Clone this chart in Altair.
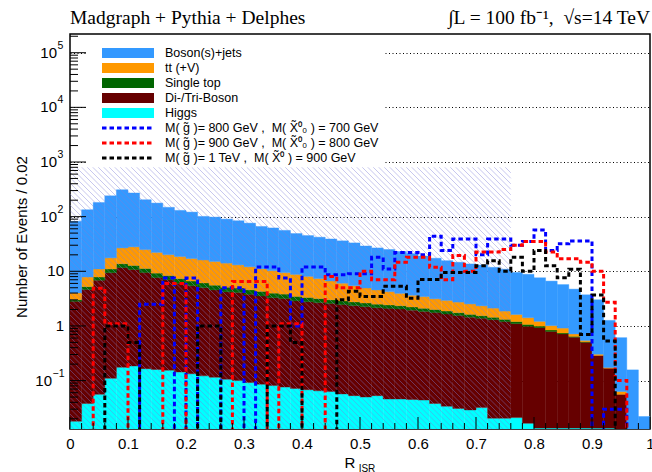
import numpy as np
import pandas as pd
import altair as alt

# ---------------------------------------------------------------- binning
N_BINS = 50
BIN_W = 0.02
bin_lo = [round(BIN_W * i, 2) for i in range(N_BINS)]

# ---------------------------------------------------------------- backgrounds (events per bin)
higgs = [0.018, 0.038, 0.056, 0.11, 0.175, 0.185, 0.165, 0.16, 0.155, 0.143,
         0.133, 0.122, 0.115, 0.106, 0.10, 0.092, 0.086, 0.081, 0.076, 0.072,
         0.068, 0.065, 0.063, 0.057, 0.053, 0.050, 0.053, 0.046, 0.046, 0.045,
         0.044, 0.038, 0.034, 0.031, 0.029, 0.032, 0.0205, 0.0205, 0.021, 0.0165,
         0.0135, 0.0135, 0.0135, 0.0135, 0.0135, 0.0135, 0.0135, 0.0, 0.0, 0.0]
diboson = [2.8, 4.6, 6.8, 9.3, 11.5, 10.6, 9.3, 7.5, 6.8, 5.9,
           5.3, 4.9, 4.45, 4.1, 4.0, 3.7, 3.45, 3.2, 3.1, 2.8,
           2.7, 2.6, 2.5, 2.4, 2.3, 2.2, 2.1, 2.05, 2.0, 1.9,
           1.8, 1.72, 1.62, 1.52, 1.42, 1.35, 1.28, 1.18, 1.08, 0.97,
           0.92, 0.78, 0.70, 0.61, 0.49, 0.275, 0.155, 0.056, 0.0, 0.0]
single_top = [0.2, 0.6, 1.0, 1.6, 2.1, 2.0, 1.8, 1.6, 1.4, 1.3,
              1.2, 1.1, 1.0, 0.9, 0.85, 0.8, 0.75, 0.7, 0.65, 0.6,
              0.55, 0.5, 0.45, 0.42, 0.4, 0.38, 0.35, 0.33, 0.3, 0.28,
              0.26, 0.24, 0.22, 0.2, 0.18, 0.16, 0.14, 0.12, 0.1, 0.08,
              0.06, 0.05, 0.03, 0.02, 0.01, 0.0, 0.0, 0.0, 0.0, 0.0]
ttv = [1.0, 2.6, 3.2, 6.6, 13.0, 15.2, 13.7, 12.9, 11.8, 11.3,
       10.5, 10.0, 9.55, 9.0, 8.15, 7.5, 6.8, 6.3, 5.65, 5.3,
       4.75, 4.2, 3.65, 3.18, 2.7, 2.32, 2.05, 1.82, 1.6, 1.42,
       1.34, 1.14, 1.06, 0.98, 0.9, 0.79, 0.68, 0.55, 0.42, 0.35,
       0.22, 0.17, 0.17, 0.07, 0.03, 0.015, 0.005, 0.007, 0.0, 0.0]
boson_jets = [78, 126, 171, 223, 284, 243, 179, 155, 128, 111.5,
              104, 85, 83, 76, 71, 64, 55, 51.8, 46.6, 40.3,
              37, 34.7, 32.4, 30, 27.6, 24.1, 22.2, 20.8, 19.1, 17.4,
              15.6, 14.2, 12.7, 11.9, 11.1, 10.7, 9.7, 9.05, 7.9, 7.4,
              6.4, 5.6, 4.8, 4.0, 3.17, 2.71, 1.09, 0.547, 0.157, 0.022]

# ---------------------------------------------------------------- signal points
sig_800_700 = [0, 0, 0, 0, 0, 0, 2.5, 2.5, 7.5, 0,
               7.5, 0, 0, 5, 5, 0, 12, 12, 7.5, 1,
               12, 12, 8.6, 8.6, 9, 9, 18, 11, 22, 22,
               20, 44, 24, 39, 39, 20, 39, 39, 30, 35,
               57, 24, 32, 36, 36, 0, 0.03, 0.03, 0, 0]
sig_900_800 = [0, 0, 4.9, 1.1, 1.1, 0, 0, 0, 6, 6,
               0, 0, 0, 0, 6.5, 6.5, 6.5, 0, 1.1, 1.1,
               0, 0, 8, 5, 5, 10, 7, 7, 14.6, 18,
               18, 11.8, 7, 19.5, 10, 22.5, 22.5, 25, 30, 35,
               35, 22.5, 17, 17, 14.6, 10, 2.7, 0.1, 0, 0]
sig_1000_900 = [0, 0, 0, 1, 1, 0.5, 0, 0, 0, 0,
                0, 1, 1, 0, 0, 0, 0, 1, 1, 0.5,
                0, 0, 0, 3, 4.3, 3.45, 3.45, 5.3, 5.3, 3.2,
                7.1, 7.1, 9.5, 9.5, 9.5, 12.6, 15.6, 10, 18, 10,
                24, 12.6, 7.6, 10.9, 0.7, 3.7, 0.53, 0, 0, 0]

# uncertainty band drawn hatched over the stack
band_x = [0.0, 0.76]
band_top = 800.0

# ---------------------------------------------------------------- frame
W, H = 580, 395
Y_MIN, Y_MAX = 0.013, 2.2e5
LOG_MIN, LOG_MAX = np.log10(Y_MIN), np.log10(Y_MAX)

xs = alt.Scale(domain=[0, 1], nice=False, zero=False)
ys = alt.Scale(type="log", domain=[Y_MIN, Y_MAX], nice=False)

SANS = "Liberation Sans"
SERIF = "Liberation Serif"
NBSP = "\u00a0"

# ---------------------------------------------------------------- stacked background histogram
processes = [
    ("Higgs", higgs, "#00ffff"),
    ("Di-/Tri-Boson", diboson, "#660000"),
    ("Single top", single_top, "#006600"),
    ("tt (+V)", ttv, "#ff9900"),
    ("Boson(s)+jets", boson_jets, "#3399ff"),
]
proc_names = [p[0] for p in processes]
proc_colors = [p[2] for p in processes]

rows = []
base = np.zeros(N_BINS)
for name, vals, color in processes:
    v = np.asarray(vals, dtype=float)
    top = base + v
    for i in range(N_BINS):
        if v[i] <= 0:
            continue
        rows.append({"process": name, "col": color, "x0": bin_lo[i], "x1": bin_lo[i] + BIN_W,
                     "lo": base[i] if base[i] > 0 else Y_MIN, "hi": top[i]})
    base = top
stack_df = pd.DataFrame(rows)

stack = alt.Chart(stack_df).mark_rect(clip=True, strokeWidth=0.4).encode(
    x=alt.X("x0:Q", scale=xs, axis=alt.Axis(
        values=[round(0.1 * k, 1) for k in range(11)], format="~g", title=None,
        ticks=False, domain=False, grid=False, labelFont=SANS, labelFontSize=15,
        labelColor="black", labelPadding=7, labelFlush=False, labelOverlap=False,
        labelBound=False)),
    x2="x1:Q",
    y=alt.Y("hi:Q", scale=ys, axis=alt.Axis(
        values=[0.1, 1, 10, 100, 1000, 10000, 100000], title=None, ticks=False,
        domain=False, grid=True, gridColor="black", gridDash=[1, 2.5], gridWidth=1,
        labels=False)),
    y2="lo:Q",
    color=alt.Color("col:N", scale=None),
    stroke=alt.Stroke("col:N", scale=None),
)

# ---------------------------------------------------------------- y tick labels with raised exponents
y_lab = pd.DataFrame({
    "v": [0.1, 1, 10, 100, 1000, 10000, 100000],
    "base": ["10", "1", "10", "10", "10", "10", "10"],
    "exp": ["−1", "", "", "2", "3", "4", "5"],
})
y_lab["bx"] = [-6 - (12 if e.startswith("−") else 7 if e else 0) for e in y_lab["exp"]]
y_lab["ex"] = y_lab["bx"] + 0.5
y_base = alt.Chart(y_lab).mark_text(
    align="right", baseline="middle", font=SANS, fontSize=15, color="black"
).encode(x=alt.X("bx:Q", scale=None), y=alt.Y("v:Q", scale=ys), text="base:N")
y_exp = alt.Chart(y_lab).mark_text(
    align="left", baseline="middle", font=SANS, fontSize=10.5, color="black", dy=-7
).encode(x=alt.X("ex:Q", scale=None), y=alt.Y("v:Q", scale=ys), text="exp:N")

# ---------------------------------------------------------------- hatched band (45 degree lines in screen space)
def to_data(px, py):
    return px / W, 10 ** (LOG_MAX - py / H * (LOG_MAX - LOG_MIN))

bx0, bx1 = band_x[0] * W, band_x[1] * W
by0 = (LOG_MAX - np.log10(band_top)) / (LOG_MAX - LOG_MIN) * H
by1 = H
step = 5.5
hatch_rows = []
c = by0 - bx1
while c < by1 - bx0:
    # line y = x + c, clipped to the band rectangle
    xa = max(bx0, by0 - c)
    xb = min(bx1, by1 - c)
    if xb > xa:
        x_a, y_a = to_data(xa, xa + c)
        x_b, y_b = to_data(xb, xb + c)
        hatch_rows.append({"xa": x_a, "xb": x_b, "ya": y_a, "yb": y_b})
    c += step
hatch = alt.Chart(pd.DataFrame(hatch_rows)).mark_rule(
    color="#7f7fd8", strokeWidth=0.8, opacity=0.55, clip=True
).encode(x=alt.X("xa:Q", scale=xs), x2="xb:Q", y=alt.Y("ya:Q", scale=ys), y2="yb:Q")

# ---------------------------------------------------------------- signal step histograms
signals = [
    (f"M( g̃ )= 800 GeV ,{NBSP} M( X̃⁰₀ ) = 700 GeV", sig_800_700, "#0000ff"),
    (f"M( g̃ )= 900 GeV ,{NBSP} M( X̃⁰₀ ) = 800 GeV", sig_900_800, "#ff0000"),
    (f"M( g̃ )= 1 TeV ,{NBSP} M( X̃⁰ ) = 900 GeV", sig_1000_900, "#000000"),
]
FLOOR = Y_MIN / 20  # empty bins drop below the axis
sig_rows = []
for label_txt, vals, color in signals:
    for i, v in enumerate(vals):
        sig_rows.append({"signal": label_txt, "col": color, "x": bin_lo[i], "y": max(v, FLOOR)})
    sig_rows.append({"signal": label_txt, "col": color, "x": 1.0, "y": max(vals[-1], FLOOR)})
sig_df = pd.DataFrame(sig_rows)
sig_lines = alt.Chart(sig_df).mark_line(
    interpolate="step-after", strokeWidth=3, strokeDash=[4.5, 3], clip=True
).encode(
    x=alt.X("x:Q", scale=xs), y=alt.Y("y:Q", scale=ys),
    color=alt.Color("col:N", scale=None),
    detail="signal:N",
)

# ---------------------------------------------------------------- inside tick marks
x_major = [round(0.1 * k, 1) for k in range(11)]
x_minor = [round(0.02 * k, 2) for k in range(51) if k % 5]
y_major = [10.0 ** d for d in range(-1, 6)]
y_minor = [m * 10.0 ** d for d in range(-2, 6) for m in range(2, 10)
           if Y_MIN <= m * 10.0 ** d <= Y_MAX]

def xticks(vals, length):
    return alt.Chart(pd.DataFrame({"t": vals})).mark_rule(color="black", strokeWidth=1).encode(
        x=alt.X("t:Q", scale=xs), y=alt.value(H), y2=alt.value(H - length))

def yticks(vals, length):
    return alt.Chart(pd.DataFrame({"t": vals})).mark_rule(color="black", strokeWidth=1).encode(
        y=alt.Y("t:Q", scale=ys), x=alt.value(0), x2=alt.value(length))

ticks = [xticks(x_major, 12), xticks(x_minor, 6), yticks(y_major, 16), yticks(y_minor, 8)]

# ---------------------------------------------------------------- legend
LEG_Y0, LEG_DY = 19, 15
leg_fill = pd.DataFrame({
    "label": proc_names[::-1], "color": proc_colors[::-1],
    "row": list(range(5)),
})
leg_line = pd.DataFrame({
    "label": [s[0] for s in signals], "color": [s[2] for s in signals],
    "row": [5, 6, 7],
})
for d in (leg_fill, leg_line):
    d["ly"] = LEG_Y0 + LEG_DY * d["row"]
    d["ly0"] = d["ly"] - 5
    d["ly1"] = d["ly"] + 5
leg_all = pd.concat([leg_fill, leg_line], ignore_index=True)

leg_bg = alt.Chart(pd.DataFrame({"a": [0]})).mark_rect(fill="white").encode(
    x=alt.value(18), x2=alt.value(315), y=alt.value(3), y2=alt.value(131))
leg_boxes = alt.Chart(leg_fill).mark_rect().encode(
    x=alt.value(32), x2=alt.value(84),
    y=alt.Y("ly0:Q", scale=None), y2="ly1:Q",
    color=alt.Color("color:N", scale=None))
leg_dash = alt.Chart(leg_line).mark_rule(strokeWidth=3, strokeDash=[4.5, 3]).encode(
    x=alt.value(32), x2=alt.value(84), y=alt.Y("ly:Q", scale=None),
    color=alt.Color("color:N", scale=None))
leg_text = alt.Chart(leg_all).mark_text(
    align="left", baseline="middle", font=SANS, fontSize=12.5, color="black"
).encode(x=alt.value(95), y=alt.Y("ly:Q", scale=None), text="label:N")

# ---------------------------------------------------------------- titles
def label(txt, x, y, size, font=SANS, align="left", angle=0, baseline="alphabetic"):
    return alt.Chart(pd.DataFrame({"t": [txt]})).mark_text(
        align=align, baseline=baseline, font=font, fontSize=size, color="black", angle=angle
    ).encode(x=alt.value(x), y=alt.value(y), text="t:N")

titles = [
    label("Madgraph + Pythia + Delphes", 0, -10, 19.5, SERIF),
    label(f"∫L = 100 fb⁻¹,{NBSP} √s=14 TeV", 580, -10, 19.5, SERIF, align="right"),
    label("Number of Events / 0.02", -48, 203, 15, angle=270, align="center", baseline="middle"),
    label("R", 280, 434, 15, align="center"),
    label("ISR", 297, 437.5, 10, align="center"),
]

chart = alt.layer(
    stack, hatch, sig_lines, *ticks, y_base, y_exp, leg_bg, leg_boxes, leg_dash, leg_text, *titles
).properties(
    width=W, height=H,
    autosize=alt.AutoSizeParams(type="none"),
    padding={"left": 70, "top": 34, "right": 2, "bottom": 43},
    background="white",
).configure_view(stroke="black", strokeWidth=1.5)

chart.save("out.html", embed_options={"renderer": "svg", "actions": False})
